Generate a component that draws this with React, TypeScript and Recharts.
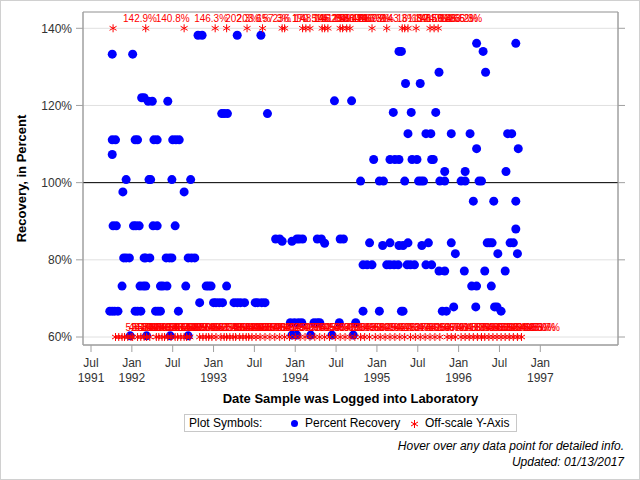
import {
  ScatterChart,
  Scatter,
  XAxis,
  YAxis,
  CartesianGrid,
  ReferenceLine,
  ReferenceArea,
} from "recharts";

// x values are decimal years
const xMin = 1991.402;
const xMax = 1997.951;
const yMin = 57.93;
const yMax = 144.22;
const yCapHigh = 140;
const yCapLow = 60;

const xTicks = [1991.5, 1992, 1992.5, 1993, 1993.5, 1994, 1994.5, 1995, 1995.5, 1996, 1996.5, 1997];
const xTickMonths = ["Jul", "Jan", "Jul", "Jan", "Jul", "Jan", "Jul", "Jan", "Jul", "Jan", "Jul", "Jan"];
const xTickYears = ["1991", "1992", "", "1993", "", "1994", "", "1995", "", "1996", "", "1997"];
const yTicks = [60, 80, 100, 120, 140];

// [date, percent recovery]
const recoveryPoints: [number, number][] = [
  [1992.81, 138.2], [1992.86, 138.2], [1993.29, 138.2], [1993.58, 138.2],
  [1996.22, 136.1], [1996.70, 136.1],
  [1995.27, 134.0], [1995.30, 134.0], [1996.30, 134.0],
  [1991.76, 133.3], [1992.01, 133.3],
  [1995.76, 128.6], [1996.33, 128.6],
  [1995.35, 125.7], [1995.53, 125.7],
  [1992.12, 122.0], [1992.15, 122.0], [1992.20, 121.1], [1992.25, 121.1], [1992.44, 121.1],
  [1994.48, 121.2], [1994.69, 121.2],
  [1993.10, 117.9], [1993.13, 117.9], [1993.17, 117.9], [1993.66, 117.9],
  [1995.20, 118.2], [1995.42, 118.2], [1995.72, 118.2],
  [1995.38, 112.7], [1995.60, 112.7], [1995.66, 112.7], [1995.91, 112.7], [1996.14, 112.7],
  [1996.60, 112.7], [1996.65, 112.7],
  [1991.76, 111.1], [1991.80, 111.1], [1992.04, 111.1], [1992.07, 111.1], [1992.27, 111.1],
  [1992.31, 111.1], [1992.50, 111.1], [1992.54, 111.1], [1992.58, 111.1],
  [1996.22, 108.8], [1996.73, 108.8],
  [1991.76, 107.3],
  [1994.96, 106.0], [1995.16, 106.0], [1995.22, 106.0], [1995.27, 106.0], [1995.43, 106.0],
  [1995.49, 106.0], [1995.67, 106.0], [1995.69, 106.0],
  [1995.83, 102.9], [1996.08, 102.9], [1996.58, 102.9],
  [1991.93, 100.8], [1992.21, 100.8], [1992.23, 100.8], [1992.49, 100.8], [1992.72, 100.8],
  [1994.80, 100.4], [1995.03, 100.4], [1995.08, 100.4], [1995.34, 100.4], [1995.51, 100.4],
  [1995.54, 100.4], [1995.57, 100.4], [1995.77, 100.4], [1995.83, 100.4], [1996.03, 100.4],
  [1996.08, 100.4], [1996.25, 100.4], [1996.28, 100.4],
  [1991.89, 97.6], [1992.64, 97.6],
  [1996.18, 95.2], [1996.43, 95.2], [1996.70, 95.2],
  [1991.77, 88.8], [1991.81, 88.8], [1992.02, 88.8], [1992.05, 88.8], [1992.09, 88.8],
  [1992.26, 88.8], [1992.31, 88.8], [1992.53, 88.8], [1996.70, 88.0],
  [1993.76, 85.4], [1993.81, 85.4], [1993.84, 84.8], [1993.96, 84.8], [1994.02, 85.4],
  [1994.05, 85.4], [1994.09, 85.4], [1994.27, 85.4], [1994.32, 85.4], [1994.36, 84.3],
  [1994.55, 85.4], [1994.59, 85.4],
  [1994.91, 84.4], [1995.16, 84.4], [1995.38, 84.4], [1995.63, 84.4], [1995.91, 84.4],
  [1996.35, 84.4], [1996.38, 84.4], [1996.41, 84.4], [1996.63, 84.4], [1996.67, 84.4],
  [1995.07, 83.7], [1995.27, 83.7], [1995.32, 83.7], [1995.55, 83.7],
  [1995.96, 81.6], [1996.48, 81.6], [1996.72, 81.6],
  [1991.90, 80.5], [1991.93, 80.5], [1991.97, 80.5], [1992.15, 80.5], [1992.17, 80.5],
  [1992.22, 80.5], [1992.42, 80.5], [1992.46, 80.5], [1992.49, 80.5], [1992.69, 80.5],
  [1992.73, 80.5], [1992.77, 80.5],
  [1994.83, 78.7], [1994.88, 78.7], [1994.94, 78.7], [1995.12, 78.7], [1995.16, 78.7],
  [1995.21, 78.7], [1995.26, 78.7], [1995.37, 78.7], [1995.41, 78.7], [1995.46, 78.7],
  [1995.60, 78.7], [1995.67, 78.7],
  [1995.76, 77.1], [1995.83, 77.1], [1996.07, 77.1], [1996.32, 77.1], [1996.57, 77.1],
  [1991.88, 73.2], [1992.10, 73.2], [1992.14, 73.2], [1992.17, 73.2], [1992.35, 73.2],
  [1992.38, 73.2], [1992.43, 73.2], [1992.66, 73.2], [1992.91, 73.2], [1992.94, 73.2],
  [1992.97, 73.2], [1993.16, 73.2], [1996.16, 73.2], [1996.22, 73.2], [1996.40, 73.2],
  [1992.83, 68.9], [1993.00, 68.9], [1993.03, 68.9], [1993.07, 68.9], [1993.11, 68.9],
  [1993.25, 68.9], [1993.29, 68.9], [1993.33, 68.9], [1993.38, 68.9], [1993.51, 68.9],
  [1993.54, 68.9], [1993.59, 68.9], [1993.63, 68.9],
  [1995.94, 67.8], [1996.21, 67.8], [1996.44, 67.8], [1996.47, 67.8],
  [1991.73, 66.7], [1991.76, 66.7], [1991.79, 66.7], [1991.83, 66.7], [1992.04, 66.7],
  [1992.07, 66.7], [1992.11, 66.7], [1992.29, 66.7], [1992.32, 66.7], [1992.35, 66.7],
  [1992.57, 66.7], [1994.83, 66.7], [1995.03, 66.7], [1995.30, 66.7], [1995.32, 66.7],
  [1995.80, 66.7], [1995.85, 66.7], [1996.52, 66.7],
  [1993.94, 63.7], [1993.99, 63.7], [1994.04, 63.7], [1994.08, 63.7], [1994.23, 63.7],
  [1994.27, 63.7], [1994.30, 63.7], [1994.54, 63.7], [1994.74, 63.7],
  [1991.98, 60.3], [1992.18, 60.3], [1992.47, 60.3], [1992.69, 60.3], [1993.96, 60.5],
  [1994.02, 60.5], [1994.19, 60.5], [1994.45, 60.5], [1994.71, 60.5],
];

// [date, actual percent] above the axis range, drawn at the 140% line
const highOffscale: [number, number][] = [
  [1991.77, 142.9], [1992.17, 140.8], [1992.64, 146.3], [1993.02, 202.3], [1993.16, 203.6],
  [1993.41, 157.3], [1993.60, 236.1], [1993.84, 170.5], [1993.87, 148.1], [1994.09, 145.2],
  [1994.13, 141.8], [1994.18, 162.0], [1994.33, 153.4], [1994.36, 149.0], [1994.40, 188.7],
  [1994.55, 144.6], [1994.58, 151.9], [1994.63, 210.3], [1994.67, 167.2], [1994.94, 143.3],
  [1995.12, 161.8], [1995.31, 192.5], [1995.34, 148.0], [1995.38, 174.6], [1995.48, 159.3],
  [1995.65, 146.6], [1995.70, 183.2], [1995.75, 165.3],
];

// [date, actual percent] below the axis range, drawn at the 60% line
const lowOffscale: [number, number][] = [
  [1991.80, 52.4], [1991.84, 48.7], [1991.88, 55.0], [1991.91, 41.3], [1991.95, 57.1],
  [1991.99, 36.8], [1992.01, 50.2], [1992.07, 44.9], [1992.11, 53.6], [1992.15, 27.5],
  [1992.18, 56.3], [1992.22, 49.1], [1992.30, 38.4], [1992.33, 54.7], [1992.37, 45.5],
  [1992.40, 51.8], [1992.44, 33.3], [1992.48, 56.9], [1992.53, 47.2], [1992.56, 52.9],
  [1992.60, 40.6], [1992.64, 55.4], [1992.67, 29.8], [1992.71, 50.6], [1992.83, 46.1],
  [1992.87, 53.2], [1992.91, 42.7], [1992.94, 57.4], [1992.98, 35.9], [1993.03, 51.1],
  [1993.09, 48.3], [1993.13, 55.8], [1993.16, 39.2], [1993.20, 54.0], [1993.24, 44.1],
  [1993.27, 56.6], [1993.32, 31.7], [1993.36, 49.8], [1993.40, 53.9], [1993.43, 43.4],
  [1993.47, 57.7], [1993.52, 37.0], [1993.57, 52.1], [1993.63, 46.8], [1993.69, 55.2],
  [1993.75, 41.9], [1993.81, 54.4], [1993.87, 25.0], [1993.93, 50.9], [1994.00, 47.6],
  [1994.06, 56.0], [1994.12, 34.5], [1994.18, 52.6], [1994.24, 45.0], [1994.30, 53.3],
  [1994.36, 40.0], [1994.42, 57.9], [1994.49, 48.0], [1994.55, 51.4], [1994.61, 38.9],
  [1994.67, 55.6], [1994.73, 43.8], [1994.80, 50.0], [1994.85, 56.7], [1994.91, 32.6],
  [1994.98, 49.4], [1995.04, 54.1], [1995.10, 42.2], [1995.16, 57.3], [1995.22, 46.4],
  [1995.28, 52.7], [1995.34, 37.8], [1995.41, 55.9], [1995.47, 44.6], [1995.53, 51.6],
  [1995.59, 28.6], [1995.65, 53.7], [1995.71, 47.9], [1995.77, 56.1], [1995.86, 40.3],
  [1995.91, 54.8], [1995.96, 45.7], [1996.03, 50.4], [1996.08, 57.5], [1996.13, 39.6],
  [1996.18, 53.0], [1996.23, 48.5], [1996.28, 55.3], [1996.32, 43.1], [1996.37, 51.3],
  [1996.42, 36.2], [1996.47, 56.4], [1996.52, 49.6], [1996.57, 54.6], [1996.62, 41.5],
  [1996.67, 52.3], [1996.72, 47.0], [1996.77, 55.7],
];

const blueData = recoveryPoints.map(([x, y]) => ({ x, y }));
const highData = highOffscale.map(([x, v]) => ({ x, y: yCapHigh, label: `${v.toFixed(1)}%` }));
const lowData = lowOffscale.map(([x, v]) => ({ x, y: yCapLow, label: `${v.toFixed(1)}%` }));

const font = '"Liberation Sans", Arial, sans-serif';
const frameColor = "#a0a0a0";

const Dot = (props: any) => <circle cx={props.cx} cy={props.cy} r={4.5} fill="#0000ff" />;

const AsteriskGlyph = ({ cx, cy }: { cx: number; cy: number }) => (
  <g stroke="#ff0000" strokeWidth={1}>
    <line x1={cx} y1={cy - 4} x2={cx} y2={cy + 4} />
    <line x1={cx - 3.5} y1={cy - 2} x2={cx + 3.5} y2={cy + 2} />
    <line x1={cx - 3.5} y1={cy + 2} x2={cx + 3.5} y2={cy - 2} />
  </g>
);

const Offscale = (props: any) => (
  <g>
    <AsteriskGlyph cx={props.cx} cy={props.cy} />
    <text x={props.cx + 10} y={props.cy - 6} fill="#ff0000" fontSize={10} fontFamily={font}>
      {props.payload.label}
    </text>
  </g>
);

const DateTick = (props: any) => {
  const i = xTicks.indexOf(props.payload.value);
  return (
    <text x={props.x} y={props.y} textAnchor="middle" fill="#333" fontSize={12} fontFamily={font}>
      <tspan x={props.x} dy={13}>{xTickMonths[i]}</tspan>
      <tspan x={props.x} dy={15}>{xTickYears[i]}</tspan>
    </text>
  );
};

const yTitle = (props: any) => {
  const vb = props.viewBox;
  const cx = 21;
  const cy = vb.y + vb.height / 2;
  return (
    <text
      x={cx}
      y={cy}
      transform={`rotate(-90, ${cx}, ${cy})`}
      textAnchor="middle"
      dominantBaseline="central"
      fontWeight="bold"
      fontSize={13}
      fontFamily={font}
      fill="#000"
    >
      Recovery, in Percent
    </text>
  );
};

const xTitle = (props: any) => {
  const vb = props.viewBox;
  return (
    <text
      x={vb.x + vb.width / 2}
      y={403}
      textAnchor="middle"
      fontWeight="bold"
      fontSize={13}
      fontFamily={font}
      fill="#000"
    >
      Date Sample was Logged into Laboratory
    </text>
  );
};

export default function App() {
  return (
    <div
      style={{
        position: "absolute",
        left: 0,
        top: 0,
        width: 640,
        height: 480,
        background: "#fff",
        fontFamily: font,
      }}
    >
      <ScatterChart width={640} height={480} margin={{ top: 12, right: 0, bottom: 75, left: 0 }}>
        <CartesianGrid yAxisId="left" vertical={false} stroke="#e0e0e0" />
        <XAxis
          type="number"
          dataKey="x"
          domain={[xMin, xMax]}
          allowDataOverflow
          ticks={xTicks}
          interval={0}
          tick={<DateTick />}
          tickSize={7}
          stroke={frameColor}
          height={60}
          label={xTitle}
        />
        <YAxis
          yAxisId="left"
          type="number"
          dataKey="y"
          domain={[yMin, yMax]}
          allowDataOverflow
          ticks={yTicks}
          interval={0}
          tickFormatter={(v: number) => `${v}%`}
          tick={{ fill: "#333", fontSize: 12, fontFamily: font }}
          tickSize={7}
          tickMargin={4}
          stroke={frameColor}
          width={83}
          label={yTitle}
        />
        <YAxis
          yAxisId="right"
          orientation="right"
          type="number"
          domain={[yMin, yMax]}
          allowDataOverflow
          ticks={yTicks}
          interval={0}
          tickFormatter={() => ""}
          tickSize={7}
          stroke={frameColor}
          width={22}
        />
        <ReferenceArea
          yAxisId="left"
          x1={xMin}
          x2={xMax}
          y1={yMin}
          y2={yMax}
          fill="none"
          stroke={frameColor}
          fillOpacity={0}
        />
        <ReferenceLine yAxisId="left" y={100} stroke="#000" />
        <Scatter yAxisId="left" data={blueData} shape={Dot} isAnimationActive={false} />
        <Scatter yAxisId="left" data={lowData} shape={Offscale} isAnimationActive={false} />
        <Scatter yAxisId="left" data={highData} shape={Offscale} isAnimationActive={false} />
      </ScatterChart>

      <div
        style={{
          position: "absolute",
          left: 184,
          top: 414,
          width: 333,
          height: 18,
          boxSizing: "border-box",
          border: "1px solid #c8c8c8",
          fontSize: 12,
          color: "#000",
        }}
      >
        <span style={{ position: "absolute", left: 4, top: 1 }}>Plot Symbols:</span>
        <svg style={{ position: "absolute", left: 100, top: 0 }} width={140} height={16}>
          <circle cx={9.5} cy={8.5} r={3.5} fill="#0000ff" />
          <AsteriskGlyph cx={129.5} cy={9} />
        </svg>
        <span style={{ position: "absolute", left: 120, top: 1 }}>Percent Recovery</span>
        <span style={{ position: "absolute", left: 240, top: 1 }}>Off-scale Y-Axis</span>
      </div>

      <div
        style={{
          position: "absolute",
          right: 16,
          top: 438,
          fontSize: 12,
          fontStyle: "italic",
          textAlign: "right",
          lineHeight: "16px",
          color: "#000",
        }}
      >
        <div>Hover over any data point for detailed info.</div>
        <div>Updated: 01/13/2017</div>
      </div>

      <div
        style={{
          position: "absolute",
          left: 0,
          top: 0,
          width: 640,
          height: 480,
          boxSizing: "border-box",
          border: "1px solid #d0d0d0",
          pointerEvents: "none",
        }}
      />
    </div>
  );
}
